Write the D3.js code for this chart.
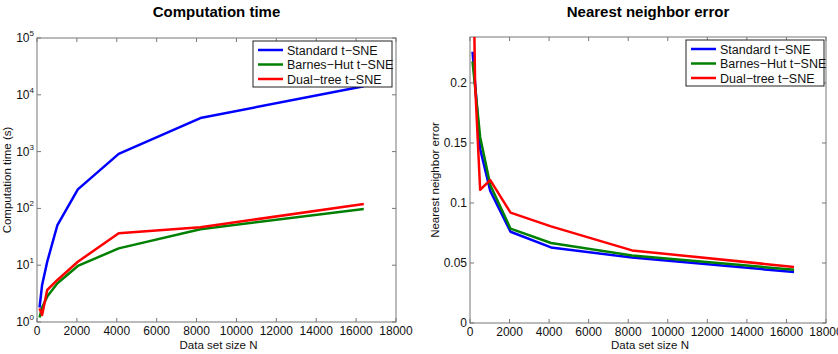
<!DOCTYPE html>
<html>
<head>
<meta charset="utf-8">
<script src="https://cdn.jsdelivr.net/npm/d3@7"></script>
<style>
  body { margin: 0; background: #fff; }
  svg { font-family: "Liberation Sans", Arial, sans-serif; }
</style>
</head>
<body>
<svg width="838" height="354"></svg>
<script>
// data set sizes (x values, same for both panels)
const N = [128, 256, 512, 1024, 2048, 4096, 8192, 16384];

// computation time in seconds
const timeStandard = [1.8, 4.5, 11.5, 51, 216, 910, 3900, 14200];
const timeBarnesHut = [1.2, 1.8, 2.8, 4.8, 9.7, 19.8, 43, 98];
const timeDualTree = [1.74, 1.33, 3.66, 5.5, 11.5, 36.5, 46.5, 120];

// nearest neighbor error
const errStandard = [0.226, 0.2, 0.145, 0.11, 0.076, 0.063, 0.0545, 0.0425];
const errBarnesHut = [0.218, 0.197, 0.155, 0.115, 0.0786, 0.0667, 0.0563, 0.0444];
const errDualTree = [0.35, 0.2, 0.111, 0.119, 0.092, 0.0805, 0.0605, 0.0467];

const seriesNames = ["Standard t\u2212SNE", "Barnes\u2212Hut t\u2212SNE", "Dual\u2212tree t\u2212SNE"];
const seriesColors = ["#0000ff", "#008000", "#ff0000"];

const xTicks = [0, 2000, 4000, 6000, 8000, 10000, 12000, 14000, 16000, 18000];
const timeTicks = [1, 10, 100, 1000, 10000, 100000];
const errTicks = [0, 0.05, 0.1, 0.15, 0.2];

const svg = d3.select("svg");
const axisColor = "#777";

function drawPanel(p) {
  const g = svg.append("g");
  const x = d3.scaleLinear().domain([0, 18000]).range([p.left, p.right]);
  const y = p.y;

  // title
  g.append("text")
    .attr("x", (p.left + p.right) / 2)
    .attr("y", 17)
    .attr("text-anchor", "middle")
    .attr("font-weight", "bold")
    .attr("font-size", 15)
    .text(p.title);

  // plot box
  g.append("rect")
    .attr("x", p.left).attr("y", p.top)
    .attr("width", p.right - p.left).attr("height", p.bottom - p.top)
    .attr("fill", "#fff").attr("stroke", axisColor).attr("stroke-width", 1);

  // inward ticks on all four sides
  const tl = 4;
  xTicks.forEach(function(t) {
    g.append("line").attr("x1", x(t)).attr("x2", x(t)).attr("y1", p.bottom).attr("y2", p.bottom - tl).attr("stroke", axisColor);
    g.append("line").attr("x1", x(t)).attr("x2", x(t)).attr("y1", p.top).attr("y2", p.top + tl).attr("stroke", axisColor);
    g.append("text")
      .attr("x", x(t)).attr("y", p.bottom + 12.5)
      .attr("text-anchor", "middle").attr("font-size", 12).attr("fill", "#111")
      .text(t);
  });
  p.yTicks.forEach(function(t) {
    g.append("line").attr("x1", p.left).attr("x2", p.left + tl).attr("y1", y(t)).attr("y2", y(t)).attr("stroke", axisColor);
    g.append("line").attr("x1", p.right).attr("x2", p.right - tl).attr("y1", y(t)).attr("y2", y(t)).attr("stroke", axisColor);
    const lab = g.append("text")
      .attr("x", p.left - 3).attr("y", y(t) + 4)
      .attr("text-anchor", "end").attr("font-size", 12).attr("fill", "#111");
    if (p.log) {
      lab.append("tspan").text("10");
      lab.append("tspan").attr("dy", -6).attr("font-size", 8).text(Math.round(Math.log10(t)));
    } else {
      lab.text(t);
    }
  });

  // axis labels
  g.append("text")
    .attr("x", (p.left + p.right) / 2 + 2).attr("y", 349)
    .attr("text-anchor", "middle").attr("font-size", 11.5).attr("fill", "#111")
    .text("Data set size N");
  g.append("text")
    .attr("transform", "translate(" + p.yLabelX + "," + ((p.top + p.bottom) / 2) + ") rotate(-90)")
    .attr("text-anchor", "middle").attr("font-size", 11.5).attr("fill", "#111")
    .text(p.yLabel);

  // clip lines to the plot box
  g.append("clipPath").attr("id", p.id)
    .append("rect")
    .attr("x", p.left).attr("y", p.top)
    .attr("width", p.right - p.left).attr("height", p.bottom - p.top);

  const line = d3.line()
    .x(function(d) { return x(d[0]); })
    .y(function(d) { return y(d[1]); });

  p.series.forEach(function(vals, i) {
    g.append("path")
      .datum(N.map(function(n, j) { return [n, vals[j]]; }))
      .attr("clip-path", "url(#" + p.id + ")")
      .attr("fill", "none")
      .attr("stroke", seriesColors[i])
      .attr("stroke-width", 2.5)
      .attr("stroke-linejoin", "round")
      .attr("d", line);
  });

  // legend
  const lg = g.append("g");
  lg.append("rect")
    .attr("x", p.legX).attr("y", p.legY)
    .attr("width", p.legW).attr("height", 46)
    .attr("fill", "#fff").attr("stroke", "#222").attr("stroke-width", 1);
  seriesNames.forEach(function(name, i) {
    const yy = p.legY + 9 + i * 14.5;
    lg.append("line")
      .attr("x1", p.legX + 5).attr("x2", p.legX + 30)
      .attr("y1", yy).attr("y2", yy)
      .attr("stroke", seriesColors[i]).attr("stroke-width", 2.5);
    lg.append("text")
      .attr("x", p.legX + 34).attr("y", yy + 4.5)
      .attr("font-size", 12.5).attr("fill", "#111")
      .text(name);
  });
}

drawPanel({
  id: "clipTime",
  title: "Computation time",
  left: 37, right: 396, top: 38, bottom: 322,
  y: d3.scaleLog().domain([1, 100000]).range([322, 38]),
  log: true,
  yTicks: timeTicks,
  yLabel: "Computation time (s)",
  yLabelX: 11,
  series: [timeStandard, timeBarnesHut, timeDualTree],
  legX: 253, legY: 41, legW: 139
});

drawPanel({
  id: "clipErr",
  title: "Nearest neighbor error",
  left: 470, right: 826, top: 37, bottom: 323,
  y: d3.scaleLinear().domain([0, 0.2383]).range([323, 37]),
  log: false,
  yTicks: errTicks,
  yLabel: "Nearest neighbor error",
  yLabelX: 439,
  series: [errStandard, errBarnesHut, errDualTree],
  legX: 686, legY: 40, legW: 138
});
</script>
</body>
</html>
